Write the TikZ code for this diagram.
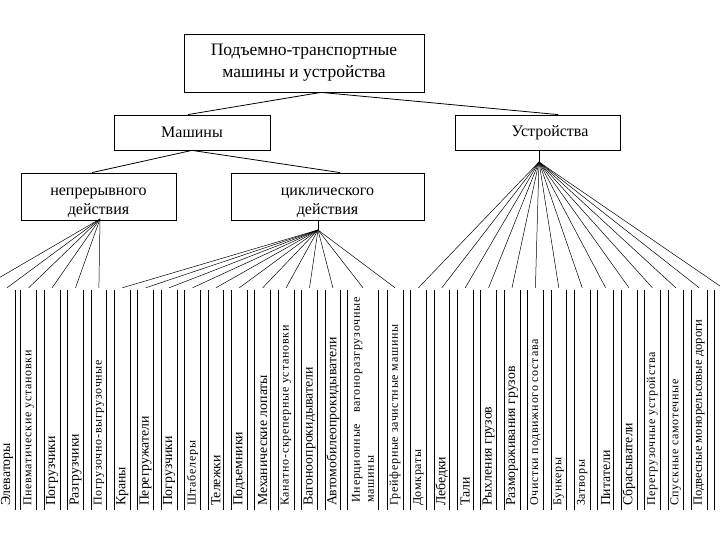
\documentclass[tikz,border=0pt]{standalone}
\usepackage{fontspec}
\setmainfont{Liberation Serif}
\usepackage{graphicx}

\newcommand{\collab}[1]{\rotatebox{90}{\makebox[212pt][l]{#1}}}
\newcommand{\labbig}{\fontsize{13.8}{16}\selectfont}
\newcommand{\labsmall}{\fontsize{12}{14}\selectfont\addfontfeatures{LetterSpace=6}}

\begin{document}
\begin{tikzpicture}[x=1pt, y=1pt,
  box/.style={draw, line width=0.8pt, inner sep=0pt, align=center, font=\fontsize{16}{19}\selectfont},
  boxtext/.style={inner sep=0pt, align=center, font=\fontsize{16}{19}\selectfont},
  col/.style={minimum width=15.4pt, minimum height=220pt, inner sep=0pt, font=\labbig},
  cols/.style={col, font=\labsmall},
  fan/.style={line width=0.5pt}]
           \useasboundingbox (0,0) rectangle (720,540);
           \clip (0,0) rectangle (720,540);

           % Верхние блоки
           \node[box, minimum width=240pt, minimum height=58pt, font=\fontsize{17.5}{22}\selectfont] (ptm) at (304,477) {Подъемно-транспортные\\машины и устройства};
           \node[box, minimum width=156pt, minimum height=35pt] (mash) at (192,407.5) {Машины};
           \node[box, minimum width=165pt, minimum height=35pt] (ustr) at (537.5,407.5) {\hspace*{25pt}Устройства};
           \node[box, minimum width=155pt, minimum height=47pt] (nepr) at (98.5,343.5) {};
           \node[boxtext] (neprt) at (98.5,337.5) {непрерывного\\действия};
           \node[box, minimum width=193pt, minimum height=47pt] (cikl) at (327.5,343.5) {};
           \node[boxtext] (ciklt) at (327.5,337.5) {циклического\\действия};

           \draw[line width=0.8pt] ([xshift=17pt]ptm.south) -- ([xshift=-4pt]mash.north);
           \draw[line width=0.8pt] ([xshift=17pt]ptm.south) -- ([xshift=20.5pt]ustr.north);
           \draw[line width=0.8pt] (mash.south) -- ([xshift=-6.5pt]nepr.north);
           \draw[line width=0.8pt] (mash.south) -- ([xshift=12.5pt]cikl.north);

           % Точки ветвления
           \coordinate (a1) at (100,321);
           \coordinate (a2) at (318,310);
           \coordinate (a3) at (539,378);
           \draw[fan] (cikl.south -| a2) -- (a2);
           \draw[fan] (ustr.south -| a3) -- (a3);

           % Машины непрерывного действия
           \node[col] (c0) at (-18.1,140) {};
           \node[col] (c1) at (7,140) {\collab{Элеваторы}};
           \node[cols] (c2) at (28.7,140) {\collab{Пневматические установки}};
           \node[col] (c3) at (52.1,140) {\collab{Погрузчики}};
           \node[col] (c4) at (75.5,140) {\collab{Разгрузчики}};
           \node[cols] (c5) at (98.9,140) {\collab{Погрузочно-выгрузочные}};

           % Машины циклического действия
           \node[col] (c6) at (122.3,140) {\collab{Краны}};
           \node[col] (c7) at (145.7,140) {\collab{Перегружатели}};
           \node[col] (c8) at (169.1,140) {\collab{Погрузчики}};
           \node[cols] (c9) at (192.5,140) {\collab{Штабелеры}};
           \node[col] (c10) at (215.9,140) {\collab{Тележки}};
           \node[col] (c11) at (239.3,140) {\collab{Подъемники}};
           \node[col] (c12) at (262.7,140) {\collab{Механические лопаты}};
           \node[cols] (c13) at (286.1,140) {\collab{Канатно-скреперные установки}};
           \node[col] (c14) at (309.5,140) {\collab{Вагоноопрокидыватели}};
           \node[col] (c15) at (332.9,140) {\collab{Автомобилеопрокидыватели}};
           \node[cols, minimum width=30pt] (c16) at (363,140) {\rotatebox{90}{\parbox{205pt}{Инерционные \hfill вагоноразгрузочные\\машины}}};
           \node[cols] (c17) at (395,140) {\collab{Грейферные зачистные машины}};

           % Устройства
           \node[cols] (c18) at (418.4,140) {\collab{Домкраты}};
           \node[col] (c19) at (441.8,140) {\collab{Лебедки}};
           \node[col] (c20) at (465.2,140) {\collab{Тали}};
           \node[col] (c21) at (488.6,140) {\collab{Рыхления грузов}};
           \node[col] (c22) at (512,140) {\collab{Размораживания грузов}};
           \node[cols] (c23) at (535.4,140) {\collab{Очистки подвижного состава}};
           \node[cols] (c24) at (558.8,140) {\collab{Бункеры}};
           \node[cols] (c25) at (582.2,140) {\collab{Затворы}};
           \node[col] (c26) at (605.6,140) {\collab{Питатели}};
           \node[col] (c27) at (629,140) {\collab{Сбрасыватели}};
           \node[cols] (c28) at (652.4,140) {\collab{Перегрузочные устройства}};
           \node[cols] (c29) at (675.8,140) {\collab{Спускные самотечные}};
           \node[col, font=\fontsize{12.6}{15}\selectfont] (c30) at (699.2,140) {\collab{Подвесные монорельсовые дороги}};
           \node[col] (c31) at (722.6,140) {};

           \foreach \i in {1,...,31}
             \draw[line width=0.8pt] (c\i.north west) -- (c\i.south west) (c\i.north east) -- (c\i.south east);

           \foreach \i in {0,...,5} \draw[fan] (a1) -- ([yshift=2pt]c\i.north);
           \foreach \i in {6,...,17} \draw[fan] (a2) -- ([yshift=2pt]c\i.north);
           \foreach \i in {18,...,31} \draw[fan] (a3) -- ([yshift=2pt]c\i.north);

         \end{tikzpicture}
\end{document}
